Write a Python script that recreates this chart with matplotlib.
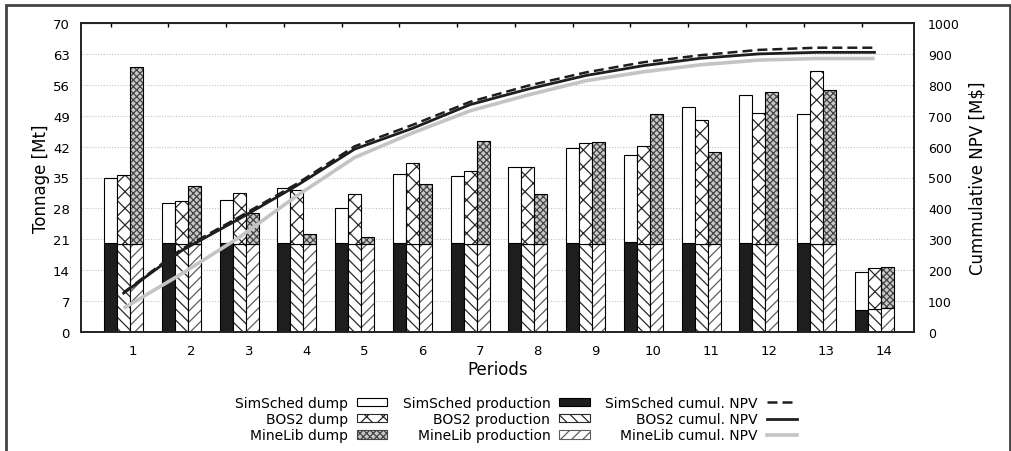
import numpy as np
import matplotlib
matplotlib.use("Agg")
from matplotlib import pyplot as plt
from matplotlib.patches import Patch, Rectangle
from matplotlib.lines import Line2D

# data
periods = np.arange(1, 15)

simsched_prod = [20.2, 20.2, 20.2, 20.2, 20.2, 20.2, 20.2, 20.2, 20.2, 20.4, 20.2, 20.2, 20.2, 5.0]
simsched_dump = [14.6, 9.0, 9.7, 12.5, 7.8, 15.7, 15.1, 17.1, 21.5, 19.8, 30.7, 33.6, 29.1, 8.7]

bos2_prod = [19.9, 19.9, 19.9, 19.9, 19.9, 19.9, 19.9, 19.9, 19.9, 19.9, 19.9, 19.9, 19.9, 5.2]
bos2_dump = [15.7, 9.7, 11.7, 12.3, 11.3, 18.4, 16.6, 17.4, 23.0, 22.3, 28.1, 29.6, 39.3, 9.4]

minelib_prod = [19.9, 19.9, 19.9, 19.9, 19.9, 19.9, 19.9, 19.9, 19.9, 19.9, 19.9, 19.9, 19.9, 5.5]
minelib_dump = [40.1, 13.1, 7.1, 2.3, 1.6, 13.6, 23.4, 11.3, 23.2, 29.4, 20.9, 34.4, 34.9, 9.3]

simsched_npv = [128, 268, 372, 480, 601, 670, 745, 797, 840, 873, 896, 913, 920, 920]
bos2_npv = [126, 263, 366, 474, 592, 659, 736, 786, 830, 862, 886, 900, 905, 905]
minelib_npv = [77, 188, 306, 441, 565, 644, 716, 767, 813, 842, 865, 880, 885, 885]

# styles
BLACK = "#1e1e1e"
GRAY_LINE = "#c4c4c4"
GRAY_FILL = "#c8c8c8"

plt.rcParams["hatch.linewidth"] = 0.9
plt.rcParams["font.family"] = "DejaVu Sans"

W, H = 1011, 452
fig = plt.figure(figsize=(W / 100, H / 100), dpi=100)
ax = fig.add_axes([81 / W, 1 - 333 / H, (914 - 81) / W, (333 - 24) / H])

bw = 0.225
x = periods.astype(float)

# grid
ax.set_axisbelow(True)
ax.yaxis.grid(True, color="#c4c4c4", linestyle=(0, (1, 1.5)), linewidth=0.8)

# SimSched bars
ax.bar(x - bw, simsched_prod, bw, color=BLACK, edgecolor="black", linewidth=0.8)
ax.bar(x - bw, simsched_dump, bw, bottom=simsched_prod, color="white", edgecolor="black", linewidth=0.8)

# BOS2 bars
ax.bar(x, bos2_prod, bw, color="white", edgecolor="#2a2a2a", hatch="\\\\\\", linewidth=0)
ax.bar(x, bos2_prod, bw, fill=False, edgecolor="black", linewidth=0.8)
ax.bar(x, bos2_dump, bw, bottom=bos2_prod, color="white", edgecolor="#2a2a2a", hatch="xx", linewidth=0)
ax.bar(x, bos2_dump, bw, bottom=bos2_prod, fill=False, edgecolor="black", linewidth=0.8)

# MineLib bars
ax.bar(x + bw, minelib_prod, bw, color="white", edgecolor="#5e5e5e", hatch="///", linewidth=0)
ax.bar(x + bw, minelib_prod, bw, fill=False, edgecolor="black", linewidth=0.8)
ax.bar(x + bw, minelib_dump, bw, bottom=minelib_prod, color=GRAY_FILL, edgecolor="#444444", hatch="xxxxx", linewidth=0)
ax.bar(x + bw, minelib_dump, bw, bottom=minelib_prod, fill=False, edgecolor="black", linewidth=0.8)

ax.set_xlim(0.261, 14.684)
ax.set_ylim(0, 70)
ax.set_yticks(np.arange(0, 71, 7))
ax.set_xticks(x + 0.166)
ax.set_xticklabels([str(p) for p in periods])
ax.tick_params(axis="both", length=0, labelsize=9.5)
ax.tick_params(axis="x", pad=9)
ax.tick_params(axis="y", pad=8)
ax.set_ylabel("Tonnage [Mt]", fontsize=12, labelpad=2)
ax.set_xlabel("Periods", fontsize=12, labelpad=2)
for s in ax.spines.values():
    s.set_linewidth(1.2)
    s.set_color("#222222")

# small ticks along the top edge
top = ax.secondary_xaxis("top")
top.set_xticks(x - bw)
top.set_xticklabels([])
top.tick_params(direction="in", length=3, width=1)

# cumulative NPV on the right axis
ax2 = ax.twinx()
ax2.plot(x, minelib_npv, color=GRAY_LINE, linewidth=2.6, solid_capstyle="butt")
ax2.plot(x, bos2_npv, color=BLACK, linewidth=2.0)
ax2.plot(x, simsched_npv, color=BLACK, linewidth=1.8, linestyle=(0, (4, 2)))
ax2.set_ylim(0, 1000)
ax2.set_yticks(np.arange(0, 1001, 100))
ax2.tick_params(axis="y", length=0, labelsize=9, pad=10)
ax2.set_ylabel("Cummulative NPV [M$]", fontsize=12, labelpad=6)
for s in ax2.spines.values():
    s.set_linewidth(1.2)
    s.set_color("#222222")

# legend: entries listed column by column
handles = [
    Patch(facecolor="white", edgecolor="black", linewidth=0.8),
    Patch(facecolor="white", edgecolor="#2a2a2a", hatch="xx", linewidth=0.8),
    Patch(facecolor=GRAY_FILL, edgecolor="#444444", hatch="xxxxx", linewidth=0.8),
    Patch(facecolor=BLACK, edgecolor="black", linewidth=0.8),
    Patch(facecolor="white", edgecolor="#2a2a2a", hatch="\\\\\\", linewidth=0.8),
    Patch(facecolor="white", edgecolor="#5e5e5e", hatch="///", linewidth=0.8),
    Line2D([], [], color=BLACK, linewidth=1.8, linestyle=(0, (4, 2))),
    Line2D([], [], color=BLACK, linewidth=2.0),
    Line2D([], [], color=GRAY_LINE, linewidth=2.6),
]
labels = [
    "SimSched dump", "BOS2 dump", "MineLib dump",
    "SimSched production", "BOS2 production", "MineLib production",
    "SimSched cumul. NPV", "BOS2 cumul. NPV", "MineLib cumul. NPV",
]
fig.legend(handles, labels, loc="upper center", bbox_to_anchor=(516 / W, 1 - 390 / H),
           ncol=3, frameon=False, markerfirst=False, fontsize=10, borderpad=0,
           handlelength=2.2, handleheight=0.55, handletextpad=0.65,
           columnspacing=1.1, labelspacing=0.16)

# outer frame
fig.add_artist(Rectangle((6 / W, -0.1), (1010 - 6) / W, 1.1 - 6 / H, transform=fig.transFigure,
                         fill=False, edgecolor="#444444", linewidth=2))

fig.savefig("out.png", dpi=100)
